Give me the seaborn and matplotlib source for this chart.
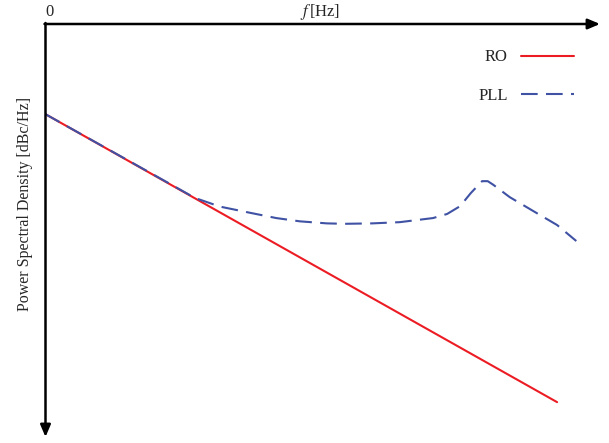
import numpy as np
import pandas as pd
import matplotlib
matplotlib.use("Agg")
import matplotlib.pyplot as plt
import seaborn as sns

# valores (frequencia normalizada 0..10, PSD em dB relativo)
ro_freq = [0.0, 9.08]
ro_psd = [-21.2, -91.5]

pll_freq = [0.0, 1.0, 2.0, 2.66, 3.1, 3.63, 4.1, 4.52, 5.0, 5.32, 5.8, 6.29,
            6.88, 7.13, 7.36, 7.55, 7.75, 7.85, 7.95, 8.24, 8.72, 9.08, 9.42]
pll_psd = [-21.2, -28.9, -36.6, -41.7, -43.8, -45.3, -46.6, -47.4, -47.9, -48.0,
           -47.9, -47.6, -46.6, -45.6, -43.7, -40.5, -37.6, -37.6, -38.5, -41.5,
           -45.4, -48.3, -52.2]

ro = pd.DataFrame({"f": ro_freq, "psd": ro_psd, "curva": "RO"})
pll = pd.DataFrame({"f": pll_freq, "psd": pll_psd, "curva": "PLL"})

sns.set_style("white")
plt.rcParams["font.family"] = ["Liberation Serif", "DejaVu Serif"]
plt.rcParams["mathtext.fontset"] = "stix"

W, H = 609, 443
fig = plt.figure(figsize=(W / 100, H / 100), dpi=100)
ax = fig.add_axes([45 / W, 6 / H, (609 - 45) / W, (437 - 27) / H])

sns.lineplot(data=ro, x="f", y="psd", color="#ec1c24", lw=1.5, label="RO", ax=ax, sort=False)
sns.lineplot(data=pll, x="f", y="psd", color="#3f52a4", lw=1.5, label="PLL", ax=ax,
             sort=False, dashes=False)
ax.lines[1].set_dashes([8, 4])

ax.set_xlim(0, 10)
ax.set_ylim(-100, 0)
ax.set_xticks([])
ax.set_yticks([])
ax.set_xlabel("")
ax.set_ylabel("")
for s in ax.spines.values():
    s.set_visible(False)

# eixos com setas (em pixels da figura, origem embaixo)
seta = dict(arrowstyle="-|>,head_length=0.4,head_width=0.17", lw=1.8, color="black",
            shrinkA=0, shrinkB=0, mutation_scale=18)
ax.annotate("", xy=(600, H - 24), xytext=(44.5, H - 24), xycoords="figure pixels",
            textcoords="figure pixels", arrowprops=seta, annotation_clip=False)
ax.annotate("", xy=(45.5, H - 437), xytext=(45.5, H - 23), xycoords="figure pixels",
            textcoords="figure pixels", arrowprops=seta, annotation_clip=False)

fig.text(49 / W, 1 - 12 / H, "0", fontsize=12, ha="center", va="center")
fig.text(320 / W, 1 - 12 / H, r"$f\,$[Hz]", fontsize=12, ha="center", va="center")
fig.text(25 / W, 1 - 204 / H, "Power Spectral Density [dBc/Hz]", fontsize=11.5,
         rotation=90, ha="center", va="center")

leg = ax.legend(loc="upper right", bbox_to_anchor=(0.965, 0.982), frameon=False,
                markerfirst=False, fontsize=12, handlelength=3.2, labelspacing=1.35)

fig.savefig("out.png", dpi=100)
